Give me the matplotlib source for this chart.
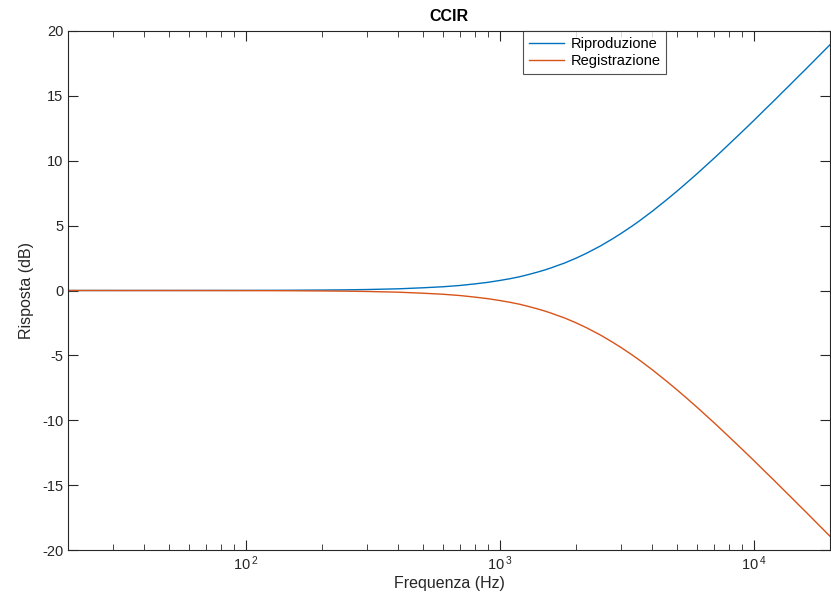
import numpy as np
import matplotlib.pyplot as plt
from matplotlib.ticker import LogLocator, NullFormatter, FuncFormatter

plt.rcParams['font.family'] = ['Liberation Sans', 'DejaVu Sans']
plt.rcParams['mathtext.fontset'] = 'custom'
plt.rcParams['mathtext.rm'] = 'Liberation Sans'
plt.rcParams['axes.unicode_minus'] = False

# frequencies (Hz) and response (dB)
freq = [20, 50, 100, 150, 200, 250, 300, 400, 500, 600, 700, 800, 900, 1000,
        1100, 1200, 1300, 1400, 1500, 1600, 1700, 1800, 2000, 2200, 2500,
        2800, 3000, 3300, 3500, 3700, 4000, 4500, 5000, 5500, 6000, 6500,
        7000, 7500, 8000, 9000, 10000, 11000, 12000, 13000, 14000, 15000,
        16000, 17000, 18000, 20000]
riproduzione = [0.0, 0.002, 0.008, 0.019, 0.034, 0.052, 0.075, 0.13, 0.21,
                0.29, 0.39, 0.51, 0.63, 0.77, 0.91, 1.06, 1.23, 1.40, 1.57,
                1.75, 1.94, 2.11, 2.49, 2.87, 3.44, 4.01, 4.38, 4.92, 5.27,
                5.62, 6.12, 6.92, 7.66, 8.36, 9.01, 9.63, 10.20, 10.75, 11.27,
                12.22, 13.08, 13.88, 14.60, 15.28, 15.90, 16.49, 17.03, 17.55,
                18.04, 18.94]
registrazione = [-v for v in riproduzione]

fig = plt.figure(figsize=(8.31, 6.08), dpi=100)
ax = fig.add_axes([68/831, 58/608, 762/831, 519/608])

ax.plot(freq, riproduzione, color='#0072BD', lw=1.0, label='Riproduzione')
ax.plot(freq, registrazione, color='#D95319', lw=1.0, label='Registrazione')

ax.set_xscale('log')
ax.set_xlim(20, 20000)
ax.set_ylim(-20, 20)
ax.set_yticks(np.arange(-20, 21, 5))
ax.xaxis.set_major_locator(LogLocator(base=10, numticks=10))
ax.xaxis.set_major_formatter(FuncFormatter(
    lambda v, p: r'$\mathregular{10^{\,%d}}$' % round(np.log10(v))))
ax.xaxis.set_minor_locator(LogLocator(base=10, subs=np.arange(2, 10), numticks=20))
ax.xaxis.set_minor_formatter(NullFormatter())

axcol = '#262626'
for s in ax.spines.values():
    s.set_color(axcol)
    s.set_linewidth(0.8)
ax.tick_params(which='both', direction='in', top=True, right=True,
               colors=axcol, labelsize=10.5)
ax.tick_params(which='major', length=7)
ax.tick_params(which='minor', length=4)

ax.set_xlabel('Frequenza (Hz)', fontsize=11.5, color=axcol, labelpad=2)
ax.set_ylabel('Risposta (dB)', fontsize=11.5, color=axcol, labelpad=6)
ax.set_title('CCIR', fontsize=11.5, fontweight='bold', color='black', pad=7)

leg = ax.legend(loc='upper left', bbox_to_anchor=(455/762, 1.0), fontsize=10.5,
                frameon=True, fancybox=False, borderaxespad=0, handlelength=2.4,
                borderpad=0.4, labelspacing=0.25, handletextpad=0.45)
leg.get_frame().set_edgecolor(axcol)
leg.get_frame().set_linewidth(0.8)

fig.savefig('out.png', dpi=100)
